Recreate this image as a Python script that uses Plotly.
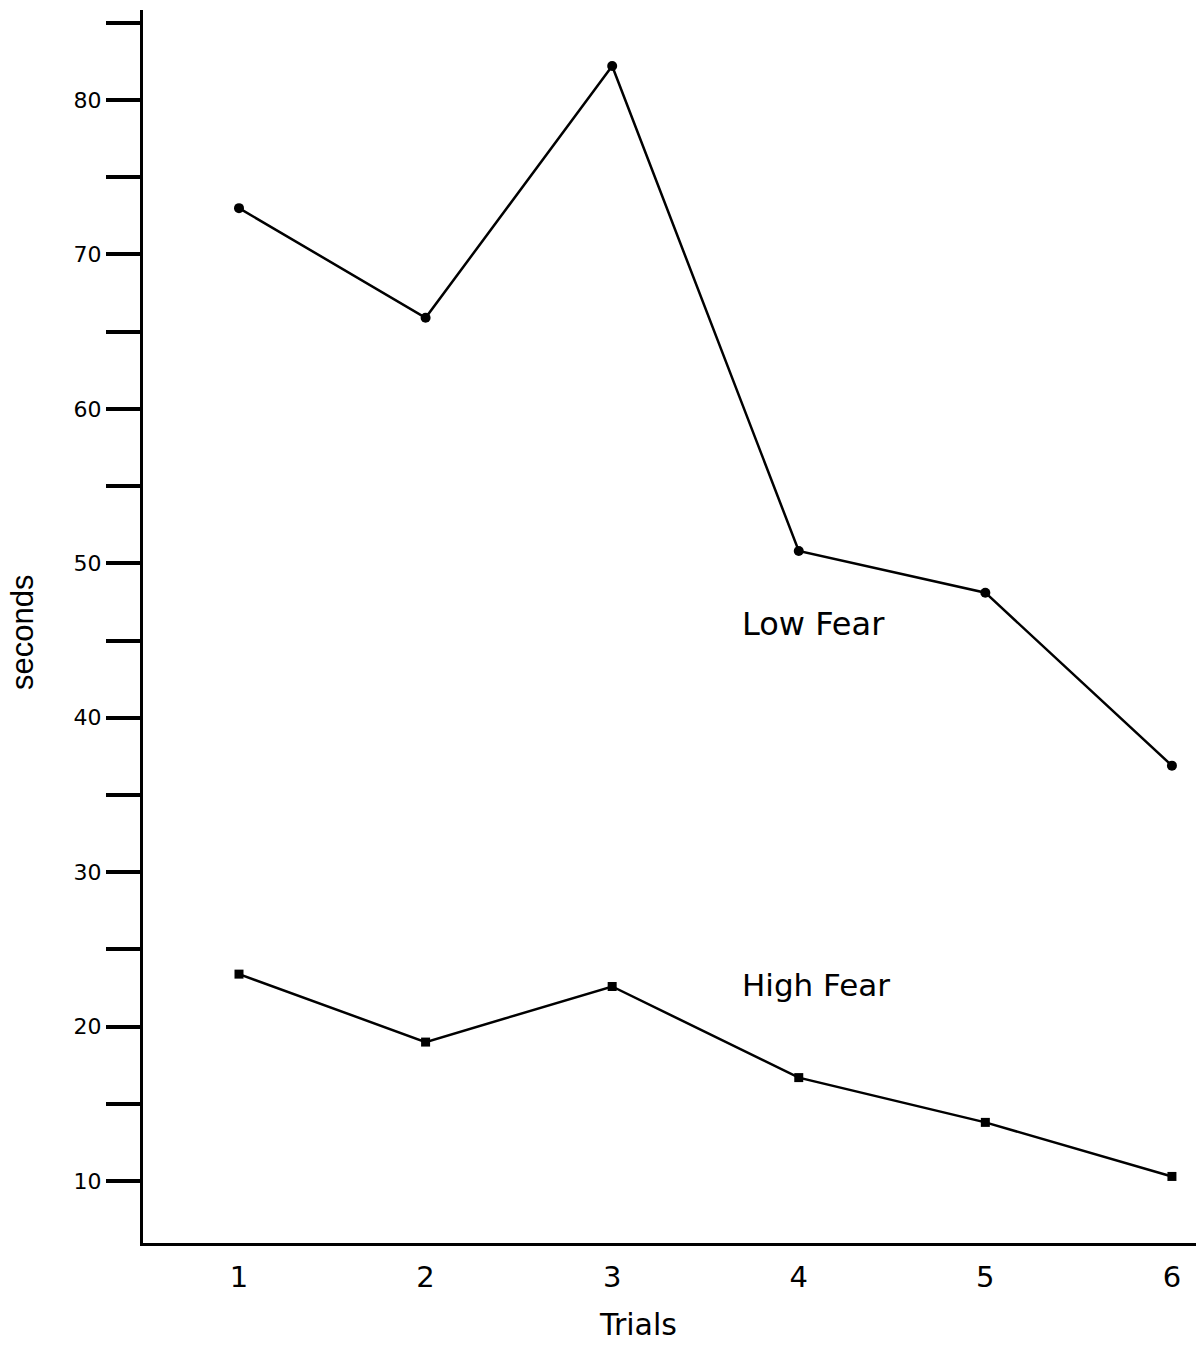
import plotly.graph_objects as go

trials = [1, 2, 3, 4, 5, 6]
low_fear = [73.0, 65.9, 82.2, 50.8, 48.1, 36.9]
high_fear = [23.4, 19.0, 22.6, 16.7, 13.8, 10.3]
x_tick_labels = ["1", "2", "3", "4", "5", "6"]
y_tick_vals = [10, 20, 30, 40, 50, 60, 70, 80]
y_minor_vals = [15, 25, 35, 45, 55, 65, 75, 85]

FONT = "DejaVu Sans"

fig = go.Figure()
fig.add_trace(go.Scatter(
    x=trials, y=low_fear, mode="lines+markers",
    line=dict(color="black", width=2.5),
    marker=dict(symbol="circle", size=10, color="black"),
    showlegend=False,
))
fig.add_trace(go.Scatter(
    x=trials, y=high_fear, mode="lines+markers",
    line=dict(color="black", width=2.5),
    marker=dict(symbol="square", size=9, color="black"),
    showlegend=False,
))

fig.add_annotation(x=4.08, y=46.1, xref="x", yref="y", text="Low Fear",
                   xanchor="center", yanchor="middle",
                   showarrow=False, font=dict(family=FONT, size=32, color="black"))
fig.add_annotation(x=4.09, y=22.7, xref="x", yref="y", text="High Fear",
                   xanchor="center", yanchor="middle",
                   showarrow=False, font=dict(family=FONT, size=31, color="black"))
fig.add_annotation(x=3.138, y=-0.0665, xref="x", yref="paper", text="Trials",
                   xanchor="center", yanchor="middle",
                   showarrow=False, font=dict(family=FONT, size=30, color="black"))
fig.add_annotation(x=-0.1149, y=0.4947, xref="paper", yref="paper", text="seconds",
                   xanchor="center", yanchor="middle",
                   textangle=-90, showarrow=False,
                   font=dict(family="Liberation Sans", size=31, color="black"))

fig.update_layout(
    width=1196, height=1351,
    margin=dict(l=143, r=0, t=10, b=108),
    paper_bgcolor="white", plot_bgcolor="white",
    font=dict(family=FONT, color="black"),
)
fig.update_xaxes(
    range=[0.4855, 6.129],
    tickvals=trials, ticktext=x_tick_labels,
    ticks="", showgrid=False, zeroline=False,
    showline=True, linecolor="black", linewidth=3,
    ticklabelstandoff=6,
    tickfont=dict(family=FONT, size=29, color="black"),
)
fig.update_yaxes(
    range=[5.99, 85.83],
    tickvals=y_tick_vals,
    ticks="outside", ticklen=34, tickwidth=4, tickcolor="black",
    minor=dict(tickvals=y_minor_vals, ticks="outside",
               ticklen=34, tickwidth=4, tickcolor="black", showgrid=False),
    showgrid=False, zeroline=False,
    showline=True, linecolor="black", linewidth=3,
    tickfont=dict(family=FONT, size=22, color="black"),
)

fig.write_html("out.html")
